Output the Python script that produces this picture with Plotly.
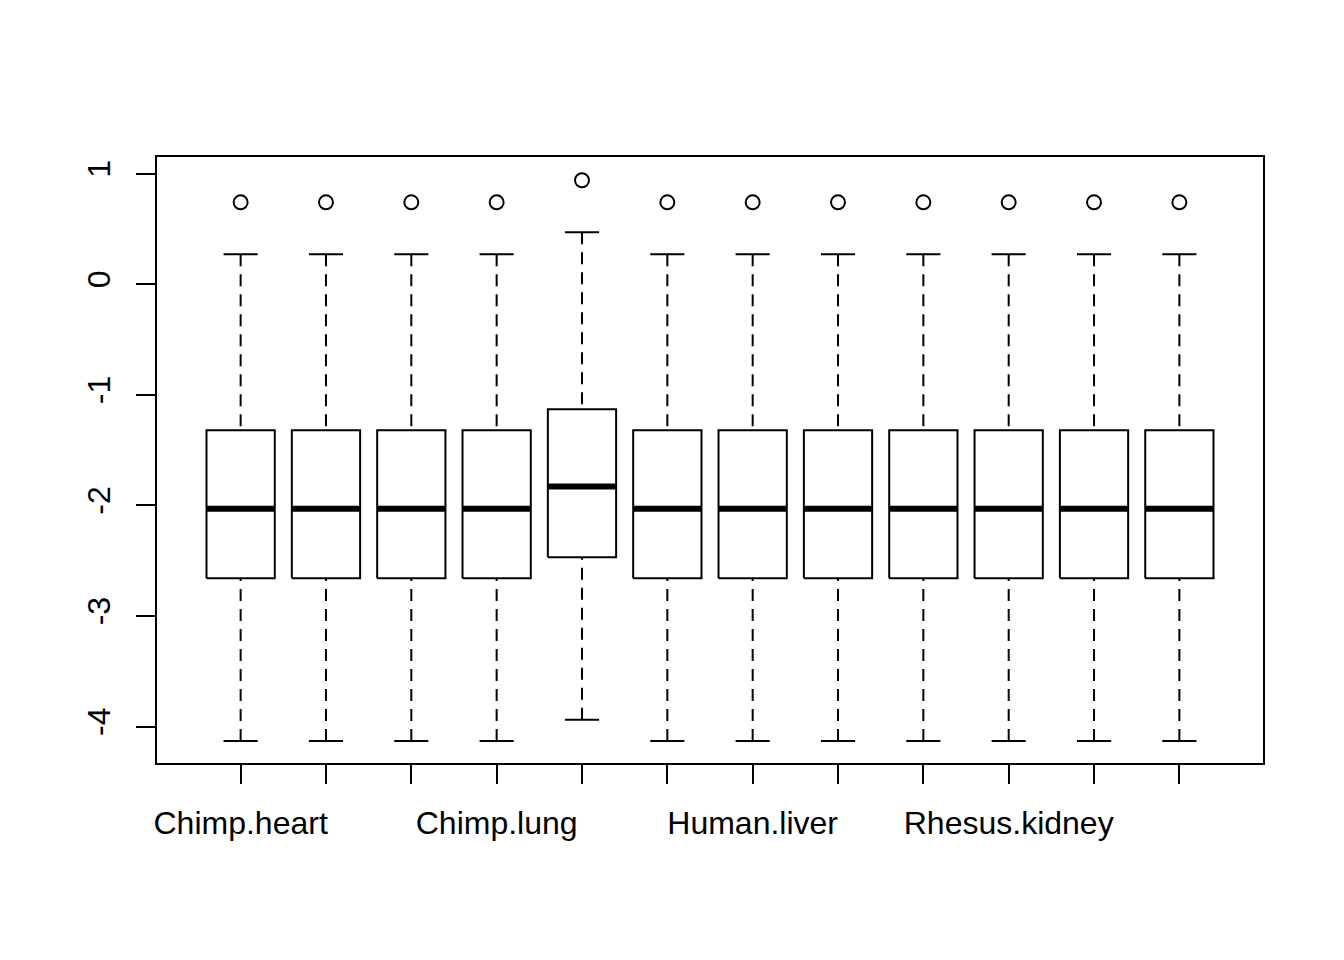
import plotly.graph_objects as go

categories = ["Chimp.heart", "Chimp.kidney", "Chimp.liver", "Chimp.lung",
              "Human.heart", "Human.kidney", "Human.liver", "Human.lung",
              "Rhesus.heart", "Rhesus.kidney", "Rhesus.liver", "Rhesus.lung"]
# labels R could fit without overlap
shown_labels = ["Chimp.heart", "", "", "Chimp.lung", "", "", "Human.liver",
                "", "", "Rhesus.kidney", "", ""]

upper_whisker = [0.27, 0.27, 0.27, 0.27, 0.47, 0.27, 0.27, 0.27, 0.27, 0.27, 0.27, 0.27]
q3 = [-1.32, -1.32, -1.32, -1.32, -1.13, -1.32, -1.32, -1.32, -1.32, -1.32, -1.32, -1.32]
medians = [-2.03, -2.03, -2.03, -2.03, -1.83, -2.03, -2.03, -2.03, -2.03, -2.03, -2.03, -2.03]
q1 = [-2.66, -2.66, -2.66, -2.66, -2.47, -2.66, -2.66, -2.66, -2.66, -2.66, -2.66, -2.66]
lower_whisker = [-4.13, -4.13, -4.13, -4.13, -3.94, -4.13, -4.13, -4.13, -4.13, -4.13, -4.13, -4.13]
outliers = [0.74, 0.74, 0.74, 0.74, 0.94, 0.74, 0.74, 0.74, 0.74, 0.74, 0.74, 0.74]

y_ticks = [-4, -3, -2, -1, 0, 1]

HALF_BOX = 0.4
HALF_CAP = 0.2

positions = list(range(1, len(categories) + 1))

box_x, box_y = [], []
med_x, med_y = [], []
cap_x, cap_y = [], []
wh_x, wh_y = [], []
for p, uw, h3, m, h1, lw in zip(positions, upper_whisker, q3, medians, q1, lower_whisker):
    box_x += [p - HALF_BOX, p + HALF_BOX, p + HALF_BOX, p - HALF_BOX, p - HALF_BOX, None]
    box_y += [h1, h1, h3, h3, h1, None]
    med_x += [p - HALF_BOX, p + HALF_BOX, None]
    med_y += [m, m, None]
    cap_x += [p - HALF_CAP, p + HALF_CAP, None, p - HALF_CAP, p + HALF_CAP, None]
    cap_y += [uw, uw, None, lw, lw, None]
    wh_x += [p, p, None, p, p, None]
    wh_y += [uw, h3, None, lw, h1, None]

fig = go.Figure()
fig.add_trace(go.Scatter(x=wh_x, y=wh_y, mode="lines",
                         line=dict(color="black", width=2, dash="12px,8px"),
                         hoverinfo="skip", showlegend=False))
fig.add_trace(go.Scatter(x=cap_x, y=cap_y, mode="lines",
                         line=dict(color="black", width=2),
                         hoverinfo="skip", showlegend=False))
fig.add_trace(go.Scatter(x=box_x, y=box_y, mode="lines",
                         line=dict(color="black", width=2),
                         hoverinfo="skip", showlegend=False))
fig.add_trace(go.Scatter(x=med_x, y=med_y, mode="lines",
                         line=dict(color="black", width=6),
                         hoverinfo="skip", showlegend=False))
fig.add_trace(go.Scatter(x=positions, y=outliers, mode="markers",
                         marker=dict(symbol="circle-open", size=14, color="black",
                                     line=dict(color="black", width=2)),
                         showlegend=False))

font = dict(family="Liberation Sans, Arial, Helvetica, sans-serif", size=32, color="black")

fig.update_layout(
    width=1344, height=960,
    margin=dict(l=157, r=81, t=157, b=197),
    paper_bgcolor="white", plot_bgcolor="white",
    font=font,
    showlegend=False,
    xaxis=dict(range=[0.02, 12.98], tickmode="array", tickvals=positions,
               ticktext=shown_labels, ticks="outside", ticklen=19, tickwidth=2,
               tickcolor="black", showline=True, linecolor="black", linewidth=2,
               mirror=True, showgrid=False, zeroline=False, tickfont=font,
               ticklabelstandoff=12),
    yaxis=dict(range=[-4.33, 1.15], tickmode="array", tickvals=y_ticks,
               ticktext=[str(v) for v in y_ticks], ticks="outside", ticklen=19,
               tickwidth=2, tickcolor="black", showline=True, linecolor="black",
               linewidth=2, mirror=True, showgrid=False, zeroline=False,
               tickangle=-90, tickfont=font, ticklabelstandoff=13),
)

fig.write_html("out.html")
